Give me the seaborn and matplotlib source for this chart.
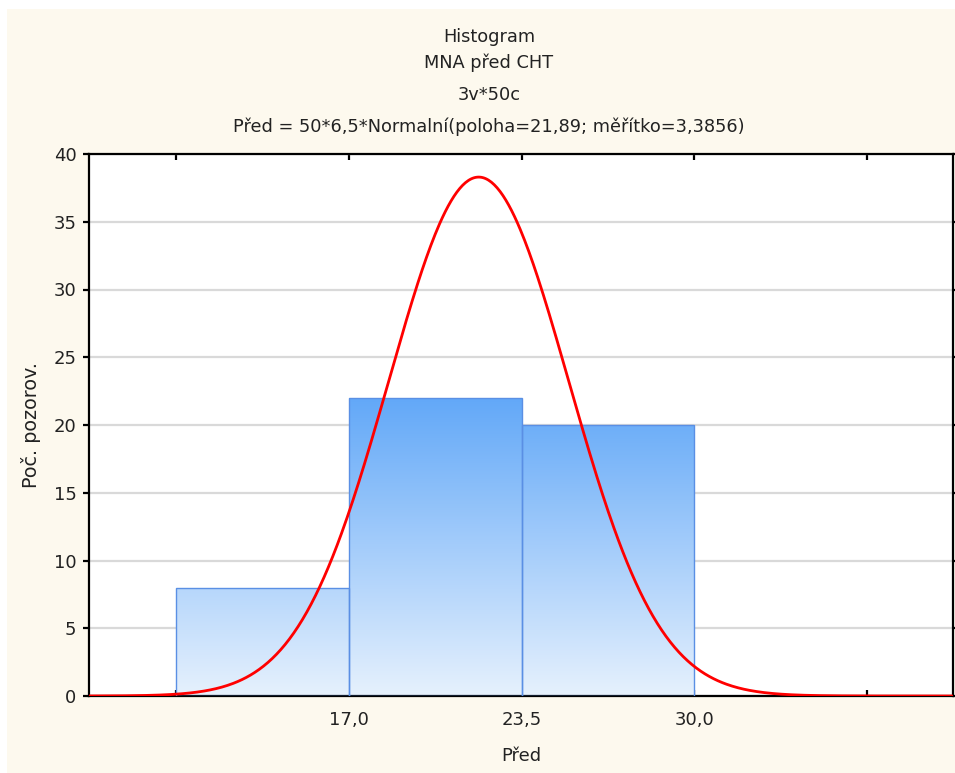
import numpy as np
import pandas as pd
import matplotlib
matplotlib.use("Agg")
import matplotlib.pyplot as plt
import seaborn as sns
from matplotlib.colors import LinearSegmentedColormap
from matplotlib.patches import Rectangle

# Histogram data: class boundaries and counts
bin_edges = [10.5, 17.0, 23.5, 30.0]
counts = [8, 22, 20]

# Fitted normal curve parameters
n_obs = 50
bin_width = 6.5
loc = 21.89
scale = 3.3856

x_ticks = [10.5, 17.0, 23.5, 30.0, 36.5]
x_tick_labels = ["", "17,0", "23,5", "30,0", ""]
y_ticks = [0, 5, 10, 15, 20, 25, 30, 35, 40]

title_lines = [
    "Histogram",
    "MNA před CHT",
    "3v*50c",
    "Před = 50*6,5*Normalní(poloha=21,89; měřítko=3,3856)",
]

sns.set_theme(style="white")
plt.rcParams["font.family"] = ["DejaVu Sans"]

W, H = 955, 773
fig = plt.figure(figsize=(W / 100, H / 100), dpi=100)
fig.patch.set_facecolor("white")
fig.patches.append(Rectangle((7 / W, 0), 1, 1 - 9 / H, transform=fig.transFigure,
                             facecolor="#FDF9EE", edgecolor="none", zorder=-10))

ax = fig.add_axes([89 / W, 1 - 696 / H, (953 - 89) / W, (696 - 154) / H])
ax.set_facecolor("white")
xlim = (7.24, 39.72)

centers = [(a + b) / 2 for a, b in zip(bin_edges[:-1], bin_edges[1:])]
df = pd.DataFrame({"Před": centers, "count": counts})
sns.histplot(data=df, x="Před", weights="count", bins=bin_edges, ax=ax,
             stat="count", facecolor="none", edgecolor="#5A8FE4",
             linewidth=1.0, alpha=1, zorder=3)

# vertical gradient fill inside each bar
cmap = LinearSegmentedColormap.from_list("bar", ["#E6F1FD", "#62A8F8"])
top = max(counts)
grad = np.linspace(0, 1, 256).reshape(-1, 1)
for p in ax.patches:
    x0 = p.get_x()
    w = p.get_width()
    im = ax.imshow(grad, cmap=cmap, aspect="auto", origin="lower",
                   extent=(x0, x0 + w, 0, top), zorder=2, interpolation="bilinear")
    im.set_clip_path(p)

xs = np.linspace(xlim[0], xlim[1], 600)
ys = n_obs * bin_width * np.exp(-0.5 * ((xs - loc) / scale) ** 2) / (scale * np.sqrt(2 * np.pi))
sns.lineplot(x=xs, y=ys, ax=ax, color="#FF0000", linewidth=2.0, zorder=4)

ax.set_xlim(*xlim)
ax.set_ylim(0, 40)
ax.set_xticks(x_ticks)
ax.set_xticklabels(x_tick_labels)
ax.set_yticks(y_ticks)
ax.set_yticklabels([str(v) for v in y_ticks])

ax.yaxis.grid(True, color="#D9D9D9", linewidth=1.6)
ax.xaxis.grid(False)
ax.set_axisbelow(True)

for s in ax.spines.values():
    s.set_visible(True)
    s.set_color("black")
    s.set_linewidth(1.6)

ax.tick_params(axis="x", direction="in", length=4, width=1.6, top=True, bottom=True,
               labelsize=13, pad=11, colors="black", labelcolor="#222222")
ax.tick_params(axis="y", direction="out", length=4, width=1.6, left=True, right=True,
               labelsize=13, pad=5, colors="black", labelcolor="#222222")

ax.set_xlabel("Před", fontsize=13, labelpad=13, color="#222222")
ax.set_ylabel("Poč. pozorov.", fontsize=13.8, labelpad=9, color="#222222")

title_y = [37, 63, 95, 127]
for txt, yy in zip(title_lines, title_y):
    fig.text(489 / W, 1 - yy / H, txt, ha="center", va="center", fontsize=12.8,
             color="#222222")

fig.savefig("out.png", dpi=100, facecolor=fig.get_facecolor())
